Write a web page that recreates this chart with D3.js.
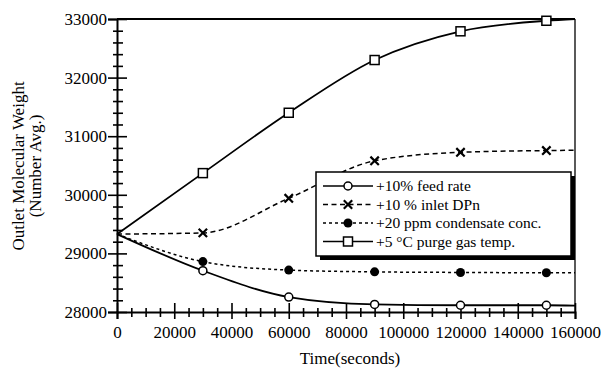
<!DOCTYPE html>
<html><head><meta charset="utf-8">
<script src="https://cdn.jsdelivr.net/npm/d3@7"></script>
<style>
html,body{margin:0;padding:0;background:#fff;}
svg{display:block;font-family:"Liberation Serif","Times New Roman",serif;}
</style></head>
<body>
<svg id="chart" width="602" height="368"></svg>
<script>
// ---- data ----
const times = [0, 30000, 60000, 90000, 120000, 150000, 160000];
const feedRate = [29330, 28705, 28255, 28130, 28115, 28115, 28110];
const inletDPn = [29330, 29350, 29940, 30580, 30725, 30755, 30760];
const condensate = [29330, 28860, 28715, 28685, 28675, 28670, 28670];
const purgeGas = [29330, 30370, 31400, 32300, 32790, 32970, 33000];
const markerTimes = [30000, 60000, 90000, 120000, 150000];
const seriesLabels = ["+10% feed rate", "+10 % inlet DPn", "+20 ppm condensate conc.", "+5 \u00B0C purge gas temp."];
const yMajorTicks = [28000, 29000, 30000, 31000, 32000, 33000];
const xMajorTicks = [0, 20000, 40000, 60000, 80000, 100000, 120000, 140000, 160000];
const xTitle = "Time(seconds)";
const yTitle1 = "Outlet Molecular Weight";
const yTitle2 = "(Number Avg.)";

// ---- layout ----
const svg = d3.select("#chart");
const L = 117, R = 575, T = 19, B = 312;
const x = d3.scaleLinear().domain([0, 160000]).range([L, R]);
const y = d3.scaleLinear().domain([28000, 33000]).range([B, T]);

const series = [
  {name: seriesLabels[0], vals: feedRate, marker: "circle", dash: null, width: 1.8},
  {name: seriesLabels[1], vals: inletDPn, marker: "x", dash: "5,3.5", width: 1.5},
  {name: seriesLabels[2], vals: condensate, marker: "dot", dash: "3,3", width: 1.5},
  {name: seriesLabels[3], vals: purgeGas, marker: "square", dash: null, width: 1.8}
];

// frame top & right
svg.append("line").attr("x1", L).attr("x2", R).attr("y1", T).attr("y2", T)
  .attr("stroke", "#000").attr("stroke-width", 2);
svg.append("line").attr("x1", R).attr("x2", R).attr("y1", T).attr("y2", B)
  .attr("stroke", "#000").attr("stroke-width", 1.3);

// axes with crossing ticks
const yMinor = d3.range(28000, 33001, 200).filter(v => v % 1000 !== 0);
const xMinor = d3.range(0, 160001, 5000).filter(v => v % 20000 !== 0);

function styleAxis(g) {
  g.selectAll("path").attr("stroke", "#000").attr("stroke-width", 2);
  g.selectAll("line").attr("stroke", "#000").attr("stroke-width", 1.6);
  g.selectAll("text").attr("font-family", "Liberation Serif").attr("font-size", 17).attr("fill", "#000");
}

// Y axis
const gy = svg.append("g").attr("transform", `translate(${L},0)`)
  .call(d3.axisLeft(y).tickValues(yMajorTicks).tickSize(9).tickPadding(1).tickFormat(d3.format("d")));
styleAxis(gy);
const gy2 = svg.append("g").attr("transform", `translate(${L},0)`)
  .call(d3.axisRight(y).tickValues(yMajorTicks).tickSize(10).tickFormat(""));
styleAxis(gy2); gy2.select("path").remove();
const gy3 = svg.append("g").attr("transform", `translate(${L},0)`)
  .call(d3.axisLeft(y).tickValues(yMinor).tickSize(4).tickFormat(""));
styleAxis(gy3); gy3.select("path").remove();
const gy4 = svg.append("g").attr("transform", `translate(${L},0)`)
  .call(d3.axisRight(y).tickValues(yMinor).tickSize(6).tickFormat(""));
styleAxis(gy4); gy4.select("path").remove();

// X axis
const gx = svg.append("g").attr("transform", `translate(0,${B})`)
  .call(d3.axisBottom(x).tickValues(xMajorTicks).tickSize(7).tickPadding(7).tickFormat(d3.format("d")));
styleAxis(gx);
const gx2 = svg.append("g").attr("transform", `translate(0,${B})`)
  .call(d3.axisTop(x).tickValues(xMajorTicks).tickSize(9).tickFormat(""));
styleAxis(gx2); gx2.select("path").remove();
const gx3 = svg.append("g").attr("transform", `translate(0,${B})`)
  .call(d3.axisBottom(x).tickValues(xMinor).tickSize(5).tickFormat(""));
styleAxis(gx3); gx3.select("path").remove();
const gx4 = svg.append("g").attr("transform", `translate(0,${B})`)
  .call(d3.axisTop(x).tickValues(xMinor).tickSize(4).tickFormat(""));
styleAxis(gx4); gx4.select("path").remove();

// titles
svg.append("text").attr("x", 350).attr("y", 364).attr("text-anchor", "middle")
  .attr("font-size", 17).text(xTitle);
svg.append("text").attr("transform", "translate(24,166) rotate(-90)").attr("text-anchor", "middle")
  .attr("font-size", 17).text(yTitle1);
svg.append("text").attr("transform", "translate(41,166) rotate(-90)").attr("text-anchor", "middle")
  .attr("font-size", 17).text(yTitle2);

// lines
const line = d3.line().x(d => x(d[0])).y(d => y(d[1])).curve(d3.curveMonotoneX);

function drawMarker(g, type, cx, cy) {
  if (type === "circle") {
    g.append("circle").attr("cx", cx).attr("cy", cy).attr("r", 4)
      .attr("fill", "#fff").attr("stroke", "#000").attr("stroke-width", 1.5);
  } else if (type === "dot") {
    g.append("circle").attr("cx", cx).attr("cy", cy).attr("r", 4.5).attr("fill", "#000");
  } else if (type === "square") {
    g.append("rect").attr("x", cx - 4.5).attr("y", cy - 4.5).attr("width", 9).attr("height", 9)
      .attr("fill", "#fff").attr("stroke", "#000").attr("stroke-width", 1.5);
  } else if (type === "x") {
    const s = 4.2;
    g.append("path").attr("d", `M${cx - s},${cy - s}L${cx + s},${cy + s}M${cx - s},${cy + s}L${cx + s},${cy - s}`)
      .attr("stroke", "#000").attr("stroke-width", 2.2);
  }
}

series.forEach(s => {
  const pts = times.map((t, i) => [t, s.vals[i]]);
  svg.append("path").attr("d", line(pts)).attr("fill", "none").attr("stroke", "#000")
    .attr("stroke-width", s.width).attr("stroke-dasharray", s.dash);
  const g = svg.append("g");
  pts.filter(p => markerTimes.includes(p[0])).forEach(p => drawMarker(g, s.marker, x(p[0]), y(p[1])));
});

// legend
const lx = 316, ly = 172, lw = 255, lh = 84;
svg.append("rect").attr("x", lx + 4).attr("y", ly + 4).attr("width", lw).attr("height", lh).attr("fill", "#000");
svg.append("rect").attr("x", lx).attr("y", ly).attr("width", lw).attr("height", lh)
  .attr("fill", "#fff").attr("stroke", "#000").attr("stroke-width", 1.5);
const rowY = [186, 204.5, 223, 241.5];
series.forEach((s, i) => {
  const g = svg.append("g");
  const yy = rowY[i];
  g.append("line").attr("x1", 323).attr("x2", 373).attr("y1", yy).attr("y2", yy)
    .attr("stroke", "#000").attr("stroke-width", s.dash ? 1.5 : 1.3).attr("stroke-dasharray", s.dash);
  drawMarker(g, s.marker, 348, yy);
  g.append("text").attr("x", 376).attr("y", yy + 5).attr("font-size", 15.5).text(s.name);
});
</script>
</body></html>
